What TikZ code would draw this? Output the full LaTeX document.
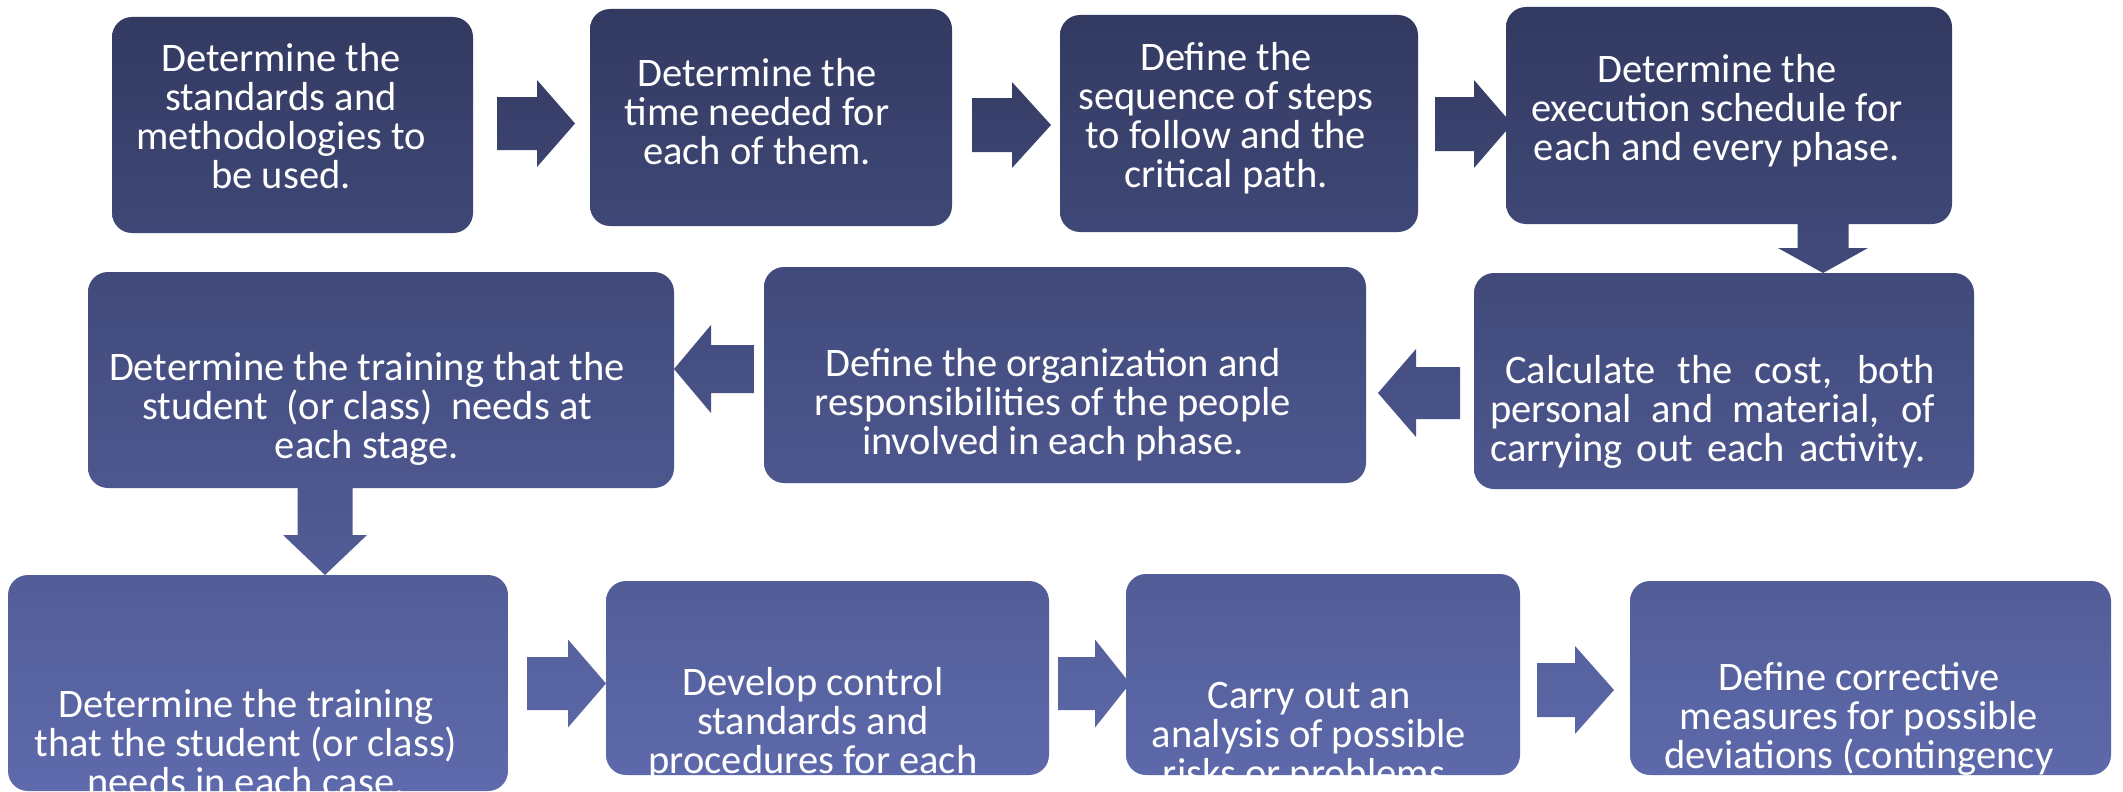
\documentclass[tikz,border=0pt]{standalone}
\usepackage{fontspec}
\setmainfont{Carlito}
\definecolor{gtop}{RGB}{50,57,96}
\definecolor{gbot}{RGB}{94,106,172}
\newcommand\boxfont{\fontsize{40.5}{39.2}\selectfont\lineskiplimit=-100pt\relax}
\newcommand\ft{\rule{0pt}{35pt}}
\tikzset{
  grad/.style 2 args={top color=gbot!#1!gtop, bottom color=gbot!#2!gtop},
  box/.style={rectangle, rounded corners=20pt, draw=none, inner sep=0pt},
  txt/.style={text=white, align=center, inner sep=0pt, anchor=north, font=\boxfont},
}
% horizontal block arrow: x0, xhead, xtip, ycentre, shaft half, head half, pct top, pct bottom
\newcommand\rarr[8]{\shade[grad={#7}{#8}] (#1,{#4-#5}) -- (#2,{#4-#5}) -- (#2,{#4-#6}) -- (#3,#4) -- (#2,{#4+#6}) -- (#2,{#4+#5}) -- (#1,{#4+#5}) -- cycle;}
% vertical block arrow: xc, shaft half, head half, y0, yhead, ytip, pct top, pct bottom
\newcommand\darr[8]{\shade[grad={#7}{#8}] ({#1-#2},#4) -- ({#1-#2},#5) -- ({#1-#3},#5) -- (#1,#6) -- ({#1+#3},#5) -- ({#1+#2},#5) -- ({#1+#2},#4) -- cycle;}
\begin{document}
\begin{tikzpicture}[x=1pt,y=-1pt]
\fill[white] (0,0) rectangle (2123,792);
\useasboundingbox (0,0) rectangle (2123,792);

% block arrows (drawn first, boxes cover their ends)
\rarr{497}{537}{575}{123.5}{26.5}{43.5}{10}{21}
\rarr{972}{1012}{1051}{125}{27}{43}{10}{21}
\rarr{1435}{1474}{1512}{124}{27}{44}{10}{21}
\darr{1823}{25.5}{45}{220}{248}{273}{28}{34}
\rarr{1460}{1416}{1378}{393}{26}{44}{44}{55}
\rarr{754}{711}{674}{369}{24}{44}{41}{52}
\darr{325}{27.5}{42}{487}{535}{575}{61}{72}
\rarr{527}{568}{606}{683.5}{26.5}{44}{81}{92}
\rarr{1058}{1095}{1130}{683.5}{26.5}{44}{81}{92}
\rarr{1537}{1575}{1614}{690}{27}{44}{82}{93}

% boxes
\node[box, grad={2}{29}, minimum width=361, minimum height=216] (b1) at (292.5,125) {};
\node[box, grad={1}{29}, minimum width=362, minimum height=217] (b2) at (771,117.5) {};
\node[box, grad={2}{29}, minimum width=358, minimum height=217] (b3) at (1239,123.5) {};
\node[box, grad={1}{28}, minimum width=446, minimum height=217] (b4) at (1729,115.5) {};
\node[box, grad={34}{62}, minimum width=500, minimum height=216] (b5) at (1724,381) {};
\node[box, grad={34}{61}, minimum width=602, minimum height=216] (b6) at (1065,375) {};
\node[box, grad={34}{62}, minimum width=586, minimum height=216] (b7) at (381,380) {};
\node[box, grad={73}{100}, minimum width=500, minimum height=216] (b8) at (258,683) {};
\node[box, grad={73}{98}, minimum width=443, minimum height=194] (b9) at (827.5,678) {};
\node[box, grad={72}{98}, minimum width=394, minimum height=201] (b10) at (1323,674.5) {};
\node[box, grad={73}{98}, minimum width=481, minimum height=194] (b11) at (1870.5,678) {};

% texts
\node[txt] (t1) at (281,36) {\ft Determine the\\standards and\\methodologies to\\be used.};
\node[txt] (t2) at (757,51) {\ft Determine the\\time needed for\\each of them.};
\node[txt] (t3) at (1226,35) {\ft Define the\\sequence of steps\\to follow and the\\critical path.};
\node[txt] (t4) at (1717,47) {\ft Determine the\\execution schedule for\\each and every phase.};
\node[txt, anchor=north west, align=left] (t5) at (1490,348) {\ft\hspace*{15pt}\makebox[430pt][s]{Calculate the cost, both}\\\makebox[445pt][s]{personal and material, of}\\\makebox[435pt][s]{carrying out each activity.}};
\node[txt] (t6) at (1053,341) {\ft Define the organization and\\responsibilities of the people\\involved in each phase.};
\node[txt] (t7) at (367,345) {\ft Determine the training that the\\student\ \ (or class)\ \ needs at\\each stage.};
\begin{scope}
\clip[rounded corners=20pt] (b8.north west) rectangle (b8.south east);
\node[txt] (t8) at (246,682) {\ft Determine the training\\that the student (or class)\\needs in each case.};
\end{scope}
\begin{scope}
\clip[rounded corners=20pt] (b9.north west) rectangle (b9.south east);
\node[txt] (t9) at (813,660) {\ft Develop control\\standards and\\procedures for each};
\end{scope}
\begin{scope}
\clip[rounded corners=20pt] (b10.north west) rectangle (b10.south east);
\node[txt] (t10) at (1309,673) {\ft Carry out an\\analysis of possible\\risks or problems.};
\end{scope}
\begin{scope}
\clip[rounded corners=20pt] (b11.north west) rectangle (b11.south east);
\node[txt] (t11) at (1859,655) {\ft Define corrective\\measures for possible\\deviations (contingency};
\end{scope}
\end{tikzpicture}
\end{document}
